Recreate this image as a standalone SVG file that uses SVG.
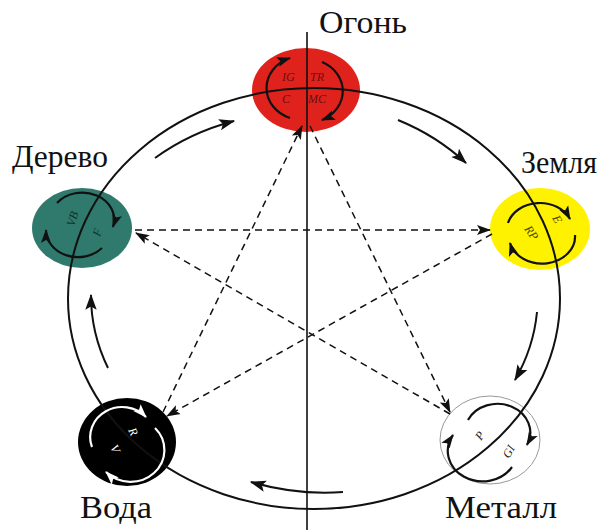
<svg xmlns="http://www.w3.org/2000/svg" width="599" height="530" viewBox="0 0 599 530">
<style>
.ring{fill:none;stroke:#111;stroke-width:2}
.flow{fill:none;stroke:#111;stroke-width:2;marker-end:url(#ahb)}
.inner{fill:none;stroke:#111;stroke-width:2.2;marker-end:url(#ah)}
.innerw{fill:none;stroke:#fff;stroke-width:2.2;marker-end:url(#ahw)}
.dasha{fill:none;stroke:#111;stroke-width:1.5;stroke-dasharray:7 5;marker-end:url(#ah)}
.big{font-family:"Liberation Serif","DejaVu Serif",serif;font-size:31px;fill:#111}
.lbl{font-family:"Liberation Serif","DejaVu Serif",serif;font-size:12px;font-style:italic}
</style>
<defs>
<marker id="ah" markerUnits="userSpaceOnUse" markerWidth="14" markerHeight="12" refX="13" refY="5" orient="auto" viewBox="0 0 14 10">
<path d="M0,0 L14,5 L0,10 L3,5 z" fill="#111"/>
</marker>
<marker id="ahb" markerUnits="userSpaceOnUse" markerWidth="16" markerHeight="14" refX="13" refY="5" orient="auto" viewBox="0 0 14 10">
<path d="M0,0 L14,5 L0,10 L3,5 z" fill="#111"/>
</marker>
<marker id="ahw" markerUnits="userSpaceOnUse" markerWidth="14" markerHeight="12" refX="13" refY="5" orient="auto" viewBox="0 0 14 10">
<path d="M0,0 L14,5 L0,10 L3,5 z" fill="#fff"/>
</marker>
</defs>

<g id="node-fire">
<ellipse cx="306" cy="90" rx="54" ry="42" fill="#e0221c"/>
</g>
<g id="node-wood">
<ellipse cx="82" cy="228" rx="50" ry="40" fill="#2f7a6d"/>
</g>
<g id="node-earth">
<ellipse cx="540" cy="229" rx="50" ry="41" fill="#fff200"/>
</g>
<g id="node-water">
<ellipse cx="127" cy="442" rx="49" ry="44" fill="#000"/>
</g>
<g id="node-metal">
<ellipse cx="490" cy="440" rx="50" ry="44" fill="#fff" stroke="#999" stroke-width="1"/>
</g>

<g id="connectors">
<ellipse class="ring" cx="314" cy="298.5" rx="246" ry="210.5"/>
<line x1="307" y1="32" x2="307" y2="530" stroke="#111" stroke-width="1.6"/>
<path class="flow" d="M155,158 A224,190 0 0 1 234,121"/>
<path class="flow" d="M398,120 A224,190 0 0 1 466,163"/>
<path class="flow" d="M537,312 A224,190 0 0 1 515,380"/>
<path class="flow" d="M343,492 A224,190 0 0 1 251,482"/>
<path class="flow" d="M108,368 A224,190 0 0 1 91,295"/>
<path class="dasha" d="M135,230 L490,230"/>
<path class="dasha" d="M450,414 L136,233"/>
<path class="dasha" d="M492,234 L167,416"/>
<path class="dasha" d="M163,412 L302,126"/>
<path class="dasha" d="M310,126 L450,412"/>
</g>

<g id="fire-cycle">
<path class="inner" d="M290,118 A36,32 0 0 1 290,58"/>
<path class="inner" d="M322,62 A36,32 0 0 1 322,120"/>
<text class="lbl" x="282" y="81" fill="#6a1010">IG</text>
<text class="lbl" x="310" y="81" fill="#6a1010">TR</text>
<text class="lbl" x="282" y="103" fill="#6a1010">C</text>
<text class="lbl" x="308" y="103" fill="#6a1010">MC</text>
</g>
<g id="wood-cycle">
<path class="inner" d="M57,203 A32,27 0 0 1 113,227"/>
<path class="inner" d="M102,248 A32,27 0 0 1 46,230"/>
<text class="lbl" fill="#12322c" transform="translate(74,227) rotate(-72)">VB</text>
<text class="lbl" fill="#12322c" transform="translate(100,237) rotate(-72)">F</text>
</g>
<g id="earth-cycle">
<path class="inner" d="M508,223 A33,27 0 0 1 570,219"/>
<path class="inner" d="M575,235 A33,27 0 0 1 510,243"/>
<text class="lbl" fill="#4a4400" transform="translate(552,218) rotate(60)">E</text>
<text class="lbl" fill="#4a4400" transform="translate(524,229) rotate(55)">RP</text>
</g>
<g id="water-cycle">
<path class="innerw" d="M92,447 A32,30 0 0 1 146,417"/>
<path class="innerw" d="M155,428 A32,30 0 0 1 106,472"/>
<text class="lbl" fill="#fff" transform="translate(128,430) rotate(65)">R</text>
<text class="lbl" fill="#fff" transform="translate(110,447) rotate(65)">V</text>
</g>
<g id="metal-cycle">
<path class="inner" d="M468,420 A32,28 0 0 1 527,445"/>
<path class="inner" d="M512,467 A32,28 0 0 1 453,435"/>
<text class="lbl" fill="#222" transform="translate(481,441) rotate(-55)">P</text>
<text class="lbl" fill="#222" transform="translate(509,459) rotate(-60)">GI</text>
</g>

<g id="titles">
<text class="big" x="319" y="33" textLength="88" lengthAdjust="spacingAndGlyphs">Огонь</text>
<text class="big" x="12" y="167" textLength="96" lengthAdjust="spacingAndGlyphs">Дерево</text>
<text class="big" x="521" y="173" textLength="76" lengthAdjust="spacingAndGlyphs">Земля</text>
<text class="big" x="80" y="518" textLength="72" lengthAdjust="spacingAndGlyphs">Вода</text>
<text class="big" x="445" y="518" textLength="112" lengthAdjust="spacingAndGlyphs">Металл</text>
</g>
</svg>
